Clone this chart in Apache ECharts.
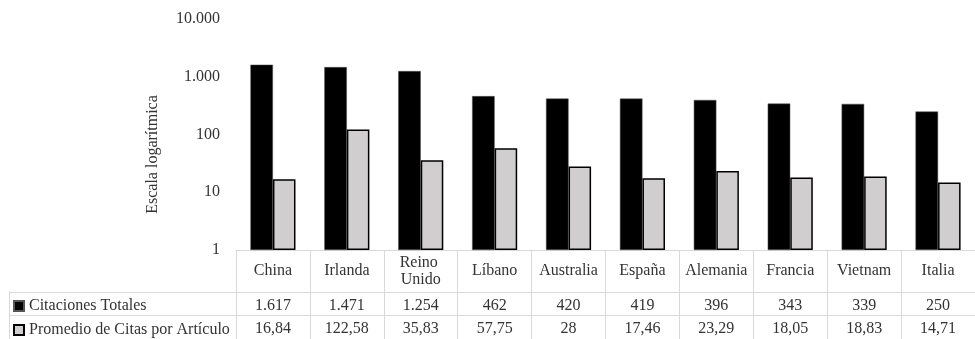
<!DOCTYPE html>
<html>
<head>
<meta charset="utf-8">
<script src="https://cdn.jsdelivr.net/npm/echarts@6/dist/echarts.min.js"></script>
<style>
  html, body { margin: 0; padding: 0; background: #fff; }
  #chart { width: 975px; height: 339px; }
</style>
</head>
<body>
<div id="chart"></div>
<script>
// Países y valores de la tabla de datos
const paises = ['China', 'Irlanda', 'Reino Unido', 'Líbano', 'Australia', 'España', 'Alemania', 'Francia', 'Vietnam', 'Italia'];
const citacionesTotales = [1617, 1471, 1254, 462, 420, 419, 396, 343, 339, 250];
const promedioCitas = [16.84, 122.58, 35.83, 57.75, 28, 17.46, 23.29, 18.05, 18.83, 14.71];
const nombresSeries = ['Citaciones Totales', 'Promedio de Citas por Artículo'];
const escalaMin = 1;
const escalaMax = 10000;

const FONT = 'Liberation Serif';
const TEXT = '#333333';
const GRID_LINE = '#d9d9d9';

// Formato numérico español: punto para miles, coma para decimales
function formatoES(v) {
  const entero = Math.trunc(v);
  const miles = String(entero).replace(/\B(?=(\d{3})+(?!\d))/g, '.');
  if (Number.isInteger(v)) return miles;
  const dec = Math.round((v - entero) * 100).toString().padStart(2, '0');
  return miles + ',' + dec;
}

const chart = echarts.init(document.getElementById('chart'), null, { renderer: 'canvas' });

const labelBase = { fontFamily: FONT, fontSize: 16, color: TEXT };

// una leyenda por fila de la tabla
function leyendaFila(nombre, top) {
  return {
    left: 8,
    top: top,
    itemWidth: 10,
    itemHeight: 10,
    icon: 'rect',
    data: [nombre],
    textStyle: Object.assign({}, labelBase),
    selectedMode: false
  };
}

chart.setOption({
  animation: false,
  backgroundColor: '#ffffff',
  textStyle: { fontFamily: FONT },
  grid: [
    { left: 236, top: 19, width: 745, height: 231 },
    { left: 9, top: 292, width: 972, height: 49 }
  ],
  legend: [
    leyendaFila(nombresSeries[0], 293),
    leyendaFila(nombresSeries[1], 317)
  ],
  xAxis: [
    {
      // fila de encabezado: nombres de países
      type: 'category',
      gridIndex: 0,
      position: 'bottom',
      data: paises,
      axisLine: { show: true, lineStyle: { color: GRID_LINE, width: 1 } },
      axisTick: { show: true, alignWithLabel: false, interval: 0, length: 91, lineStyle: { color: GRID_LINE, width: 1 } },
      axisLabel: Object.assign({
        interval: 0, margin: 21, verticalAlign: 'middle', lineHeight: 17,
        width: 66, overflow: 'break', align: 'center'
      }, labelBase),
      splitLine: { show: false }
    },
    {
      // fila: Citaciones Totales
      type: 'category',
      gridIndex: 0,
      position: 'bottom',
      offset: 42,
      data: paises,
      axisLine: { show: false },
      axisTick: { show: false },
      axisLabel: Object.assign({
        interval: 0, margin: 14, verticalAlign: 'middle',
        formatter: (v, i) => formatoES(citacionesTotales[i])
      }, labelBase)
    },
    {
      // fila: Promedio de Citas por Artículo
      type: 'category',
      gridIndex: 0,
      position: 'bottom',
      offset: 66.5,
      data: paises,
      axisLine: { show: false },
      axisTick: { show: false },
      axisLabel: Object.assign({
        interval: 0, margin: 12, verticalAlign: 'middle',
        formatter: (v, i) => formatoES(promedioCitas[i])
      }, labelBase)
    },
    {
      type: 'value',
      gridIndex: 1,
      show: false,
      min: 0,
      max: 1
    }
  ],
  yAxis: [
    {
      type: 'log',
      logBase: 10,
      gridIndex: 0,
      min: escalaMin,
      max: escalaMax,
      name: 'Escala logarítmica',
      nameLocation: 'middle',
      nameRotate: 90,
      nameGap: 75,
      nameTextStyle: Object.assign({ padding: [0, 40, 0, 0] }, labelBase),
      axisLine: { show: false },
      axisTick: { show: false },
      splitLine: { show: false },
      axisLabel: Object.assign({ margin: 16, formatter: v => formatoES(v) }, labelBase)
    },
    {
      // líneas horizontales de las filas de la tabla
      type: 'category',
      gridIndex: 1,
      inverse: true,
      data: nombresSeries,
      axisLine: { show: true, lineStyle: { color: GRID_LINE, width: 1 } },
      axisTick: { show: false },
      axisLabel: { show: false },
      splitLine: { show: true, interval: 0, lineStyle: { color: GRID_LINE, width: 1 } }
    }
  ],
  series: [
    {
      name: nombresSeries[0],
      type: 'bar',
      xAxisIndex: 0,
      yAxisIndex: 0,
      data: citacionesTotales,
      barGap: '0%',
      barCategoryGap: '39%',
      itemStyle: { color: '#000000', borderColor: '#555555', borderWidth: 0.5 }
    },
    {
      name: nombresSeries[1],
      type: 'bar',
      xAxisIndex: 0,
      yAxisIndex: 0,
      data: promedioCitas,
      barGap: '0%',
      barCategoryGap: '39%',
      itemStyle: { color: '#d0cece', borderColor: '#000000', borderWidth: 1.5 }
    }
  ]
});
</script>
</body>
</html>
